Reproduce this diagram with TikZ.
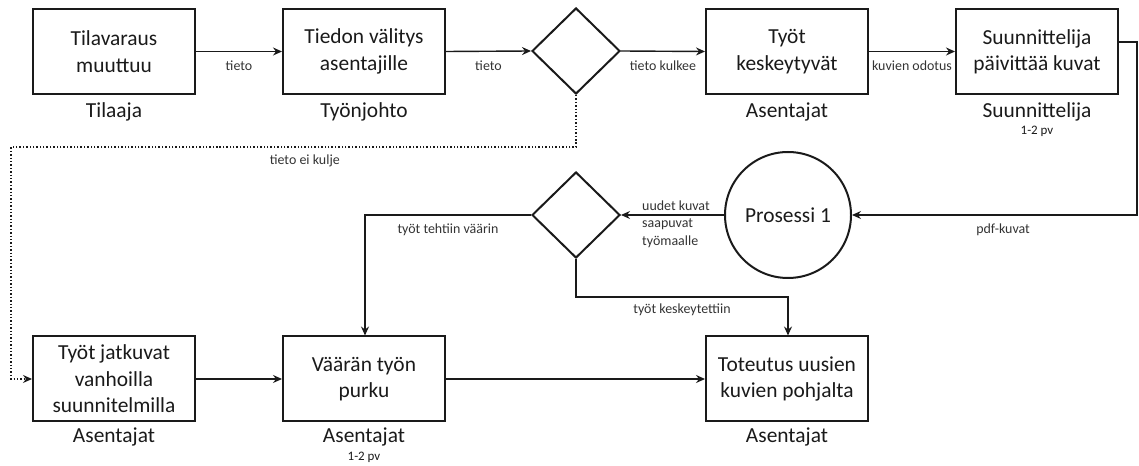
\documentclass[tikz,border=0pt]{standalone}
\usepackage{fontspec}
\setmainfont{Carlito}
\usetikzlibrary{shapes.geometric,arrows.meta}
\definecolor{ink}{HTML}{1A1A1A}
\definecolor{lab}{HTML}{333333}
\tikzset{
  box/.style={draw=ink, line width=2bp, minimum width=162bp, minimum height=85bp,
    inner sep=0pt, align=center, text=ink, font=\fontsize{21.5}{26.5}\selectfont},
  dec/.style={draw=ink, line width=2bp, shape=diamond, minimum width=88bp,
    minimum height=86bp, inner sep=0pt},
  proc/.style={draw=ink, line width=2bp, shape=circle, minimum size=126bp,
    inner sep=0pt, text=ink, font=\fontsize{21.5}{26}\selectfont},
  role/.style={text=ink, font=\fontsize{21.5}{26}\selectfont, inner sep=0pt},
  small/.style={text=ink, font=\fontsize{13}{15}\selectfont, inner sep=0pt},
  lbl/.style={text=lab, font=\fontsize{14}{17.5}\selectfont, inner sep=0pt},
  arr/.style={draw=ink, line width=1.4bp, -{Stealth[length=9bp,width=8bp,inset=3bp]}},
  dotarr/.style={draw=ink, line width=1.4bp, dotted, -{Stealth[length=9bp,width=8bp,inset=3bp]}},
}
\begin{document}
\begin{tikzpicture}[x=1bp,y=-1bp]
\useasboundingbox (0,0) rectangle (1139,466);
% top row
\node[box] (b1) at (114,51.5) {Tilavaraus\\muuttuu};
\node[box] (b2) at (364,51.5) {Tiedon välitys\\asentajille};
\node[dec] (d1) at (576,51) {};
\node[box] (b3) at (787,51.5) {Työt\\keskeytyvät};
\node[box] (b4) at (1037,51.5) {Suunnittelija\\päivittää kuvat};
\node[role] (r1) at (114,112) {Tilaaja};
\node[role] (r2) at (364,112) {Työnjohto};
\node[role] (r3) at (787,112) {Asentajat};
\node[role] (r4) at (1037,112) {Suunnittelija};
\node[small] (t4) at (1037,131) {1-2 pv};
% middle row
\node[proc] (p1) at (788,215) {Prosessi 1};
\node[dec] (d2) at (576,215) {};
% bottom row
\node[box] (b5) at (114,379) {Työt jatkuvat\\vanhoilla\\suunnitelmilla};
\node[box] (b6) at (364,379) {Väärän työn\\purku};
\node[box] (b7) at (787,379) {Toteutus uusien\\kuvien pohjalta};
\node[role] (r5) at (114,437) {Asentajat};
\node[role] (r6) at (364,437) {Asentajat};
\node[small] (t6) at (364,457) {1-2 pv};
\node[role] (r7) at (787,437) {Asentajat};
% helper coordinates
\coordinate (c4a) at (1137,42);
\coordinate (c4b) at (1137,215);
\coordinate (cd1) at (576,147);
\coordinate (cl1) at (11,147);
\coordinate (cl2) at (11,379);
\coordinate (cw) at (365,215);
\coordinate (cd2) at (576,297);
\coordinate (ck) at (788,297);
% connectors top
\draw[arr] (b1.east) -- node[lbl, below=9bp]{tieto} (b2.west);
\draw[arr] (b2.east) -- node[lbl, below=9bp]{tieto} (d1.west);
\draw[arr] (d1.east) -- node[lbl, below=9bp]{tieto kulkee} (b3.west);
\draw[arr] (b3.east) -- node[lbl, below=9bp]{kuvien odotus} (b4.west);
\draw[arr] (b4.east |- c4a) -- (c4a) -- (c4b) -- node[lbl, pos=0.47, below=8bp]{pdf-kuvat} (p1.east);
% middle
\draw[arr] (p1.west) -- (d2.east);
\node[lbl, anchor=west, align=left] (uk) at (642,224) {uudet kuvat\\saapuvat\\työmaalle};
\draw[arr] (d2.west) -- node[lbl, pos=0.5, below=8bp]{työt tehtiin väärin} (cw) -- (b6.north -| cw);
\draw[arr] (d2.south) -- (cd2) -- node[lbl, pos=0.5, below=6bp]{työt keskeytettiin} (ck) -- (b7.north -| ck);
% dotted
\draw[dotarr] (d1.south) -- (cd1) -- node[lbl, pos=0.48, below=7bp]{tieto ei kulje} (cl1) -- (cl2) -- (b5.west);
% bottom
\draw[arr] (b5.east) -- (b6.west);
\draw[arr] (b6.east) -- (b7.west);
\end{tikzpicture}
\end{document}
